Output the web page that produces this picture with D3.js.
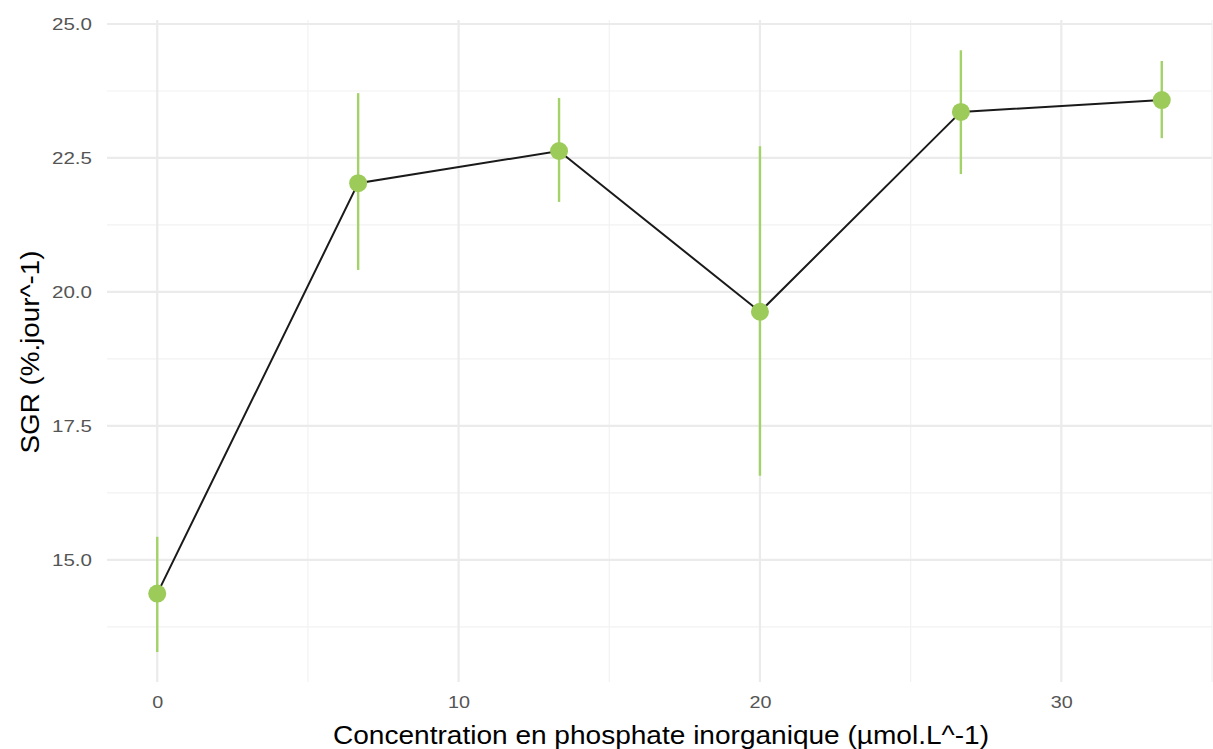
<!DOCTYPE html>
<html>
<head>
<meta charset="utf-8">
<script src="https://cdn.jsdelivr.net/npm/d3@7"></script>
<style>
  body { margin: 0; background: #fff; }
  text { font-family: "Liberation Sans", Arial, sans-serif; }
</style>
</head>
<body>
<script>
// phosphate concentrations and measured SGR
const conc = [0, 6.667, 13.333, 20, 26.667, 33.333];
const sgr = [14.37, 22.03, 22.63, 19.63, 23.36, 23.58];
const errLow = [13.28, 20.41, 21.68, 16.57, 22.2, 22.87];
const errHigh = [15.43, 23.71, 23.62, 22.72, 24.51, 24.31];
const xTicks = [0, 10, 20, 30];
const xMinor = [5, 15, 25, 35];
const yTicks = [15, 17.5, 20, 22.5, 25];
const yMinor = [13.75, 16.25, 18.75, 21.25, 23.75];

const width = 1213, height = 749;
const margin = {top: 20, right: 1, bottom: 67, left: 107};

const svg = d3.select("body").append("svg")
  .attr("width", width)
  .attr("height", height);

const x = d3.scaleLinear()
  .domain([-1.667, 35])
  .range([margin.left, width - margin.right]);

const y = d3.scaleLinear()
  .domain([12.72, 25.075])
  .range([height - margin.bottom, margin.top]);

const grid = svg.append("g");

// minor grid
grid.selectAll(".xminor").data(xMinor).enter().append("line")
  .attr("x1", d => x(d)).attr("x2", d => x(d))
  .attr("y1", margin.top).attr("y2", height - margin.bottom)
  .attr("stroke", "#f2f2f2").attr("stroke-width", 1.2);
grid.selectAll(".yminor").data(yMinor).enter().append("line")
  .attr("x1", margin.left).attr("x2", width - margin.right)
  .attr("y1", d => y(d)).attr("y2", d => y(d))
  .attr("stroke", "#f2f2f2").attr("stroke-width", 1.2);

// major grid
grid.selectAll(".xmajor").data(xTicks).enter().append("line")
  .attr("x1", d => x(d)).attr("x2", d => x(d))
  .attr("y1", margin.top).attr("y2", height - margin.bottom)
  .attr("stroke", "#ebebeb").attr("stroke-width", 2.2);
grid.selectAll(".ymajor").data(yTicks).enter().append("line")
  .attr("x1", margin.left).attr("x2", width - margin.right)
  .attr("y1", d => y(d)).attr("y2", d => y(d))
  .attr("stroke", "#ebebeb").attr("stroke-width", 2.2);

// axes (labels only, like theme_minimal)
const xAxis = svg.append("g")
  .attr("transform", `translate(0,${height - margin.bottom})`)
  .call(d3.axisBottom(x).tickValues(xTicks).tickSize(0).tickPadding(14));
const yAxis = svg.append("g")
  .attr("transform", `translate(${margin.left},0)`)
  .call(d3.axisLeft(y).tickValues(yTicks).tickFormat(d3.format(".1f")).tickSize(0).tickPadding(15));

[xAxis, yAxis].forEach(a => {
  a.select(".domain").remove();
  a.selectAll("text")
    .attr("fill", "#555")
    .style("font-size", "17px")
    .style("font-family", "'Liberation Sans', Arial, sans-serif");
});
// the reference labels look a bit stretched sideways
yAxis.selectAll("text").attr("textLength", 40).attr("lengthAdjust", "spacingAndGlyphs");
xAxis.selectAll("text")
  .attr("textLength", d => String(d).length * 11)
  .attr("lengthAdjust", "spacingAndGlyphs");

const pts = conc.map((c, i) => ({c: c, v: sgr[i], lo: errLow[i], hi: errHigh[i]}));

// error bars
svg.selectAll(".err").data(pts).enter().append("line")
  .attr("x1", d => x(d.c)).attr("x2", d => x(d.c))
  .attr("y1", d => y(d.lo)).attr("y2", d => y(d.hi))
  .attr("stroke", "#a3d269").attr("stroke-width", 2.4);

// line
const line = d3.line().x(d => x(d.c)).y(d => y(d.v));
svg.append("path")
  .datum(pts)
  .attr("d", line)
  .attr("fill", "none")
  .attr("stroke", "#1a1a1a")
  .attr("stroke-width", 2);

// points
svg.selectAll(".pt").data(pts).enter().append("circle")
  .attr("cx", d => x(d.c)).attr("cy", d => y(d.v))
  .attr("r", 9)
  .attr("fill", "#9ccb59");

// axis titles
svg.append("text")
  .attr("x", 661)
  .attr("y", 744)
  .attr("text-anchor", "middle")
  .attr("fill", "#000")
  .attr("textLength", 656)
  .attr("lengthAdjust", "spacingAndGlyphs")
  .style("font-size", "25px")
  .text("Concentration en phosphate inorganique (µmol.L^-1)");

svg.append("text")
  .attr("transform", `translate(39,352) rotate(-90)`)
  .attr("text-anchor", "middle")
  .attr("fill", "#000")
  .attr("textLength", 203)
  .attr("lengthAdjust", "spacingAndGlyphs")
  .style("font-size", "25px")
  .text("SGR (%.jour^-1)");
</script>
</body>
</html>
